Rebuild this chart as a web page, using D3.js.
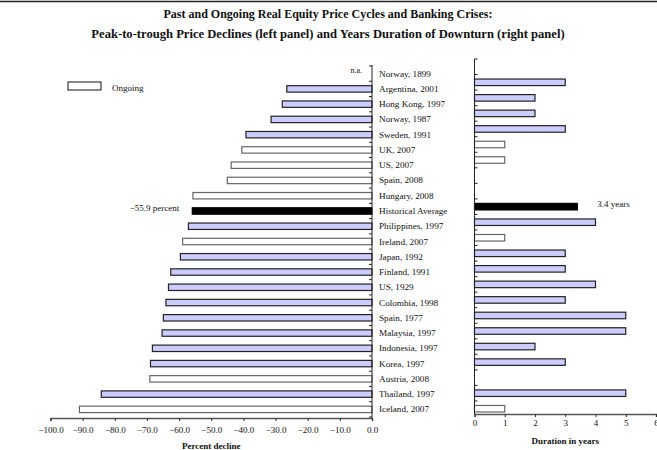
<!DOCTYPE html>
<html>
<head>
<meta charset="utf-8">
<script src="https://cdn.jsdelivr.net/npm/d3@7"></script>
<style>
body{margin:0;background:#fff;}
svg text{font-family:"Liberation Serif","Times New Roman",serif;fill:#111;}
</style>
</head>
<body>
<svg width="657" height="450"></svg>
<script>
// donnees
var categories = ["Norway, 1899","Argentina, 2001","Hong Kong, 1997","Norway, 1987","Sweden, 1991","UK, 2007","US, 2007","Spain, 2008","Hungary, 2008","Historical Average","Philippines, 1997","Ireland, 2007","Japan, 1992","Finland, 1991","US, 1929","Colombia, 1998","Spain, 1977","Malaysia, 1997","Indonesia, 1997","Korea, 1997","Austria, 2008","Thailand, 1997","Iceland, 2007"];
var declines = [null,-26.5,-27.9,-31.4,-39.2,-40.5,-43.8,-45.0,-55.7,-55.9,-57.1,-58.9,-59.6,-62.6,-63.3,-64.1,-64.9,-65.3,-68.3,-68.9,-69.1,-84.2,-91.0];
var durations = [null,3,2,2,3,1,1,null,null,3.4,4,1,3,3,4,3,5,5,2,3,null,5,1];
var ongoing = [false,false,false,false,false,true,true,true,true,false,false,true,false,false,false,false,false,false,false,false,true,false,true];
var declineTicks = [-100,-90,-80,-70,-60,-50,-40,-30,-20,-10,0];
var durationTicks = [0,1,2,3,4,5,6];
var titles = ["Past and Ongoing Real Equity Price Cycles and Banking Crises:",
              "Peak-to-trough Price Declines (left panel) and Years Duration of Downturn (right panel)"];
var avgName = "Historical Average";

var rows = categories.map(function(c,i){
  return {name:c, decline:declines[i], duration:durations[i], ongoing:ongoing[i]};
});

var svg = d3.select("svg");
var lavender = "#ccccff";

function fillOf(d){
  if(d.name===avgName) return "#000";
  return d.ongoing ? "#fff" : lavender;
}
function strokeOf(d){
  if(d.name===avgName) return "#000";
  return d.ongoing ? "#666" : "#222";
}

// ligne du haut
svg.append("line").attr("x1",0).attr("x2",657).attr("y1",1.5).attr("y2",1.5)
   .attr("stroke","#222").attr("stroke-width",1.5);

// titres
svg.selectAll(".titre").data(titles).enter().append("text")
   .attr("class","titre")
   .attr("x",328).attr("y",function(d,i){return 17.5+i*20.5;})
   .attr("text-anchor","middle")
   .style("font-weight","bold").style("font-size",function(d,i){return i===0?"12px":"12.6px";})
   .text(function(d){return d;});

// ---- panneau gauche ----
var xL = d3.scaleLinear().domain([-100,0]).range([50.5,372]);
var yL = d3.scaleBand().domain(categories).range([66,417]);
var barH = yL.bandwidth()*0.42;
var axisYL = 418;

svg.selectAll(".barL").data(rows.filter(function(d){return d.decline!==null;}))
   .enter().append("rect")
   .attr("class","barL")
   .attr("x",function(d){return xL(d.decline);})
   .attr("width",function(d){return xL(0)-xL(d.decline);})
   .attr("y",function(d){return yL(d.name)+yL.bandwidth()/2-barH/2;})
   .attr("height",barH)
   .attr("fill",fillOf).attr("stroke",strokeOf).attr("stroke-width",1.2);

// axe vertical gauche
svg.append("line").attr("x1",xL(0)).attr("x2",xL(0)).attr("y1",yL.range()[0]-1).attr("y2",axisYL)
   .attr("stroke","#222").attr("stroke-width",1);
var bounds = categories.map(function(c){return yL(c);}).concat([yL.range()[1]]);
svg.selectAll(".tickL").data(bounds).enter().append("line")
   .attr("x1",xL(0)-3).attr("x2",xL(0)).attr("y1",function(d){return d;}).attr("y2",function(d){return d;})
   .attr("stroke","#222").attr("stroke-width",1);

// axe x gauche
var gxL = svg.append("g").attr("transform","translate(0,"+axisYL+")")
   .call(d3.axisBottom(xL).tickValues(declineTicks).tickFormat(d3.format(".1f")).tickSize(3).tickPadding(6));
gxL.select(".domain").attr("stroke","#555").attr("stroke-width",1.5);
gxL.selectAll(".tick line").attr("stroke","#333");
gxL.selectAll("text").style("font-size","9px").style("font-family","Liberation Serif, serif").attr("fill","#111");

svg.append("text").attr("x",(xL.range()[0]+xL.range()[1])/2).attr("y",449)
   .attr("text-anchor","middle").style("font-weight","bold").style("font-size","9px")
   .text("Percent decline");

// etiquette n.a.
svg.append("text").attr("x",xL(0)-10).attr("y",yL(categories[0])+yL.bandwidth()/2-1)
   .attr("text-anchor","end").style("font-size","8px").text("n.a.");

// etiquette moyenne gauche
var avgRow = rows.filter(function(d){return d.name===avgName;})[0];
svg.append("text").attr("x",xL(avgRow.decline)-13).attr("y",yL(avgName)+yL.bandwidth()/2)
   .attr("text-anchor","end").style("font-size","9px")
   .text(d3.format(".1f")(avgRow.decline)+" percent");

// noms des categories
svg.selectAll(".cat").data(categories).enter().append("text")
   .attr("class","cat")
   .attr("x",379).attr("y",function(d){return yL(d)+yL.bandwidth()/2+3;})
   .style("font-size","9.2px")
   .text(function(d){return d;});

// legende
svg.append("rect").attr("x",68).attr("y",82).attr("width",33).attr("height",8)
   .attr("fill","#fff").attr("stroke","#111").attr("stroke-width",1);
svg.append("text").attr("x",112).attr("y",91).style("font-size","9px").text("Ongoing");

// ---- panneau droit ----
var xR = d3.scaleLinear().domain([0,6]).range([474.5,656]);
var yR = d3.scaleBand().domain(categories).range([59,416.5]);
var barHR = yR.bandwidth()*0.42;
var axisYR = 414;

svg.selectAll(".barR").data(rows.filter(function(d){return d.duration!==null;}))
   .enter().append("rect")
   .attr("class","barR")
   .attr("x",xR(0))
   .attr("width",function(d){return xR(d.duration)-xR(0);})
   .attr("y",function(d){return yR(d.name)+yR.bandwidth()/2-barHR/2;})
   .attr("height",barHR)
   .attr("fill",fillOf).attr("stroke",strokeOf).attr("stroke-width",1.2);

svg.append("line").attr("x1",xR(0)).attr("x2",xR(0)).attr("y1",yR.range()[0]).attr("y2",axisYR)
   .attr("stroke","#222").attr("stroke-width",1);
var boundsR = categories.map(function(c){return yR(c);});
svg.selectAll(".tickR").data(boundsR).enter().append("line")
   .attr("x1",xR(0)).attr("x2",xR(0)+3).attr("y1",function(d){return d;}).attr("y2",function(d){return d;})
   .attr("stroke","#222").attr("stroke-width",1);

var gxR = svg.append("g").attr("transform","translate(0,"+axisYR+")")
   .call(d3.axisBottom(xR).tickValues(durationTicks).tickFormat(d3.format("d")).tickSize(3).tickPadding(3));
gxR.select(".domain").attr("stroke","#555").attr("stroke-width",1.5);
gxR.selectAll(".tick line").attr("stroke","#333");
gxR.selectAll("text").style("font-size","9px").style("font-family","Liberation Serif, serif").attr("fill","#111");

svg.append("text").attr("x",(xR.range()[0]+xR.range()[1])/2).attr("y",444)
   .attr("text-anchor","middle").style("font-weight","bold").style("font-size","9px")
   .text("Duration in years");

svg.append("text").attr("x",xR(avgRow.duration)+20).attr("y",yR(avgName)+yR.bandwidth()/2)
   .style("font-size","9px")
   .text(avgRow.duration+" years");
</script>
</body>
</html>
